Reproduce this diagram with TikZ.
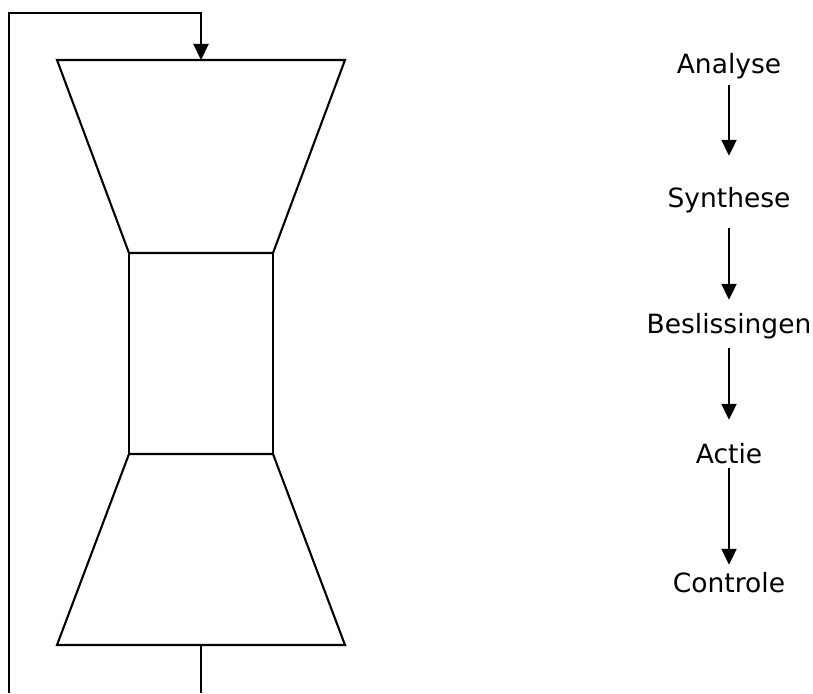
\documentclass[tikz,border=0pt]{standalone}
\usepackage{fontspec}
\setmainfont{DejaVu Sans}
\usetikzlibrary{arrows.meta}
\begin{document}
\begin{tikzpicture}[x=1pt,y=-1pt,
  ln/.style={line width=2.1pt, line join=miter},
  arr/.style={ln, -{Triangle[length=16pt,width=15pt]}},
  lbl/.style={inner sep=0pt, text height=19pt, text depth=5pt, anchor=base, font=\fontsize{26.5}{30}\selectfont}]
\useasboundingbox (0,0) rectangle (813,693);
% funnel shape
\coordinate (t1) at (57,60);
\coordinate (t2) at (345,60);
\coordinate (r1) at (129,253);
\coordinate (r2) at (273,253);
\coordinate (r3) at (273,454);
\coordinate (r4) at (129,454);
\coordinate (b1) at (57,645);
\coordinate (b2) at (345,645);
\coordinate (topin) at (201,60);
\coordinate (botout) at (201,645);
\coordinate (botend) at (201,693);
\coordinate (lb) at (9,693);
\coordinate (lt) at (9,13);
\draw[ln] (t1) -- (t2) -- (r2) -- (r1) -- cycle;
\draw[ln] (r1) rectangle (r3);
\draw[ln] (r4) -- (r3) -- (b2) -- (b1) -- cycle;
\draw[ln] (botout) -- (botend);
\draw[arr] (lb) -- (lt) -| (topin);
% right column
\node[lbl] (an) at (729,74) {Analyse};
\node[lbl] (sy) at (729,207) {Synthese};
\node[lbl] (be) at (729,333) {Beslissingen};
\node[lbl] (ac) at (729,463) {Actie};
\node[lbl] (co) at (729,592) {Controle};
\draw[arr, shorten <=6pt, shorten >=32pt] (an.south) -- (sy.north);
\draw[arr, shorten <=16pt, shorten >=14pt] (sy.south) -- (be.north);
\draw[arr, shorten <=10pt, shorten >=24pt] (be.south) -- (ac.north);
\draw[arr, shorten <=0pt, shorten >=8pt] (ac.south) -- (co.north);
\end{tikzpicture}
\end{document}
